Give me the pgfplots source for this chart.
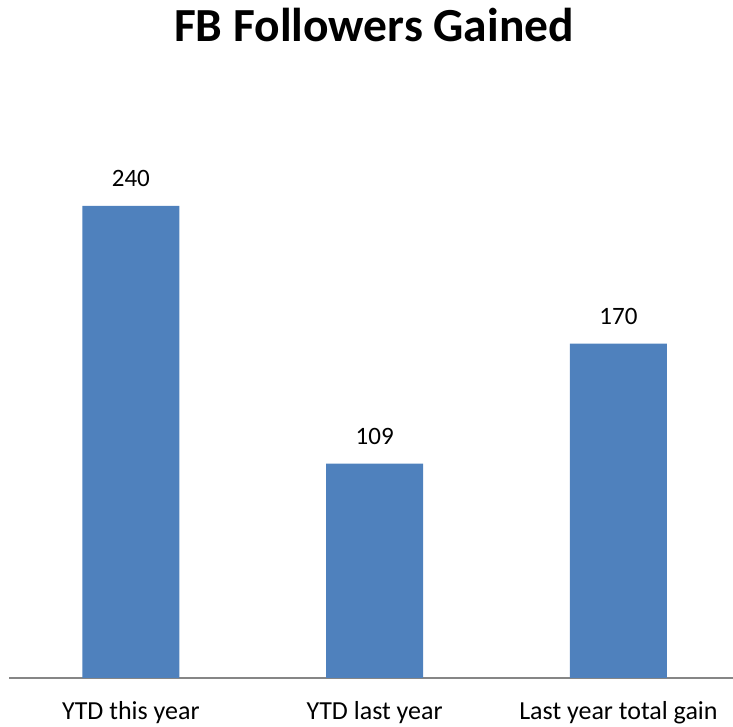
\documentclass[border=0pt]{standalone}
\usepackage{fontspec}
\setmainfont{Carlito}
\usepackage{pgfplots}
\pgfplotsset{compat=1.18}
\definecolor{barblue}{HTML}{4F81BD}
\definecolor{axisgray}{HTML}{868686}
\begin{document}
\begin{tikzpicture}
\begin{axis}[
    scale only axis,
    width=724bp, height=594bp,
    ybar, bar width=97bp,
    ymin=0, ymax=302,
    xmin=-0.5, xmax=2.47,
    xtick=data,
    xticklabels={YTD this year, YTD last year, Last year total gain},
    xticklabel style={font=\fontsize{26bp}{30bp}\selectfont, anchor=base, inner sep=0pt, yshift=-41bp},
    major tick length=0pt,
    hide y axis,
    axis x line=bottom,
    x axis line style={draw=axisgray, line width=1.4bp, -},
    /pgf/number format/assume math mode=true,
    nodes near coords,
    nodes near coords style={font=\fontsize{25bp}{30bp}\selectfont, anchor=base, inner sep=0pt, yshift=19bp, text=black},
    title style={font=\bfseries\fontsize{47.5bp}{54bp}\selectfont, at={(axis description cs:0.5,1)}, anchor=base, inner sep=0pt, xshift=3bp, yshift=37bp},
    title={FB Followers Gained},
]
\addplot[fill=barblue, draw=none] coordinates {(0,240) (1,109) (2,170)};
\coordinate (bl) at (rel axis cs:0,0);
\end{axis}
\pgfresetboundingbox
\path (bl) ++(-9bp,-49bp) rectangle ++(733bp,727bp);
\end{tikzpicture}
\end{document}
